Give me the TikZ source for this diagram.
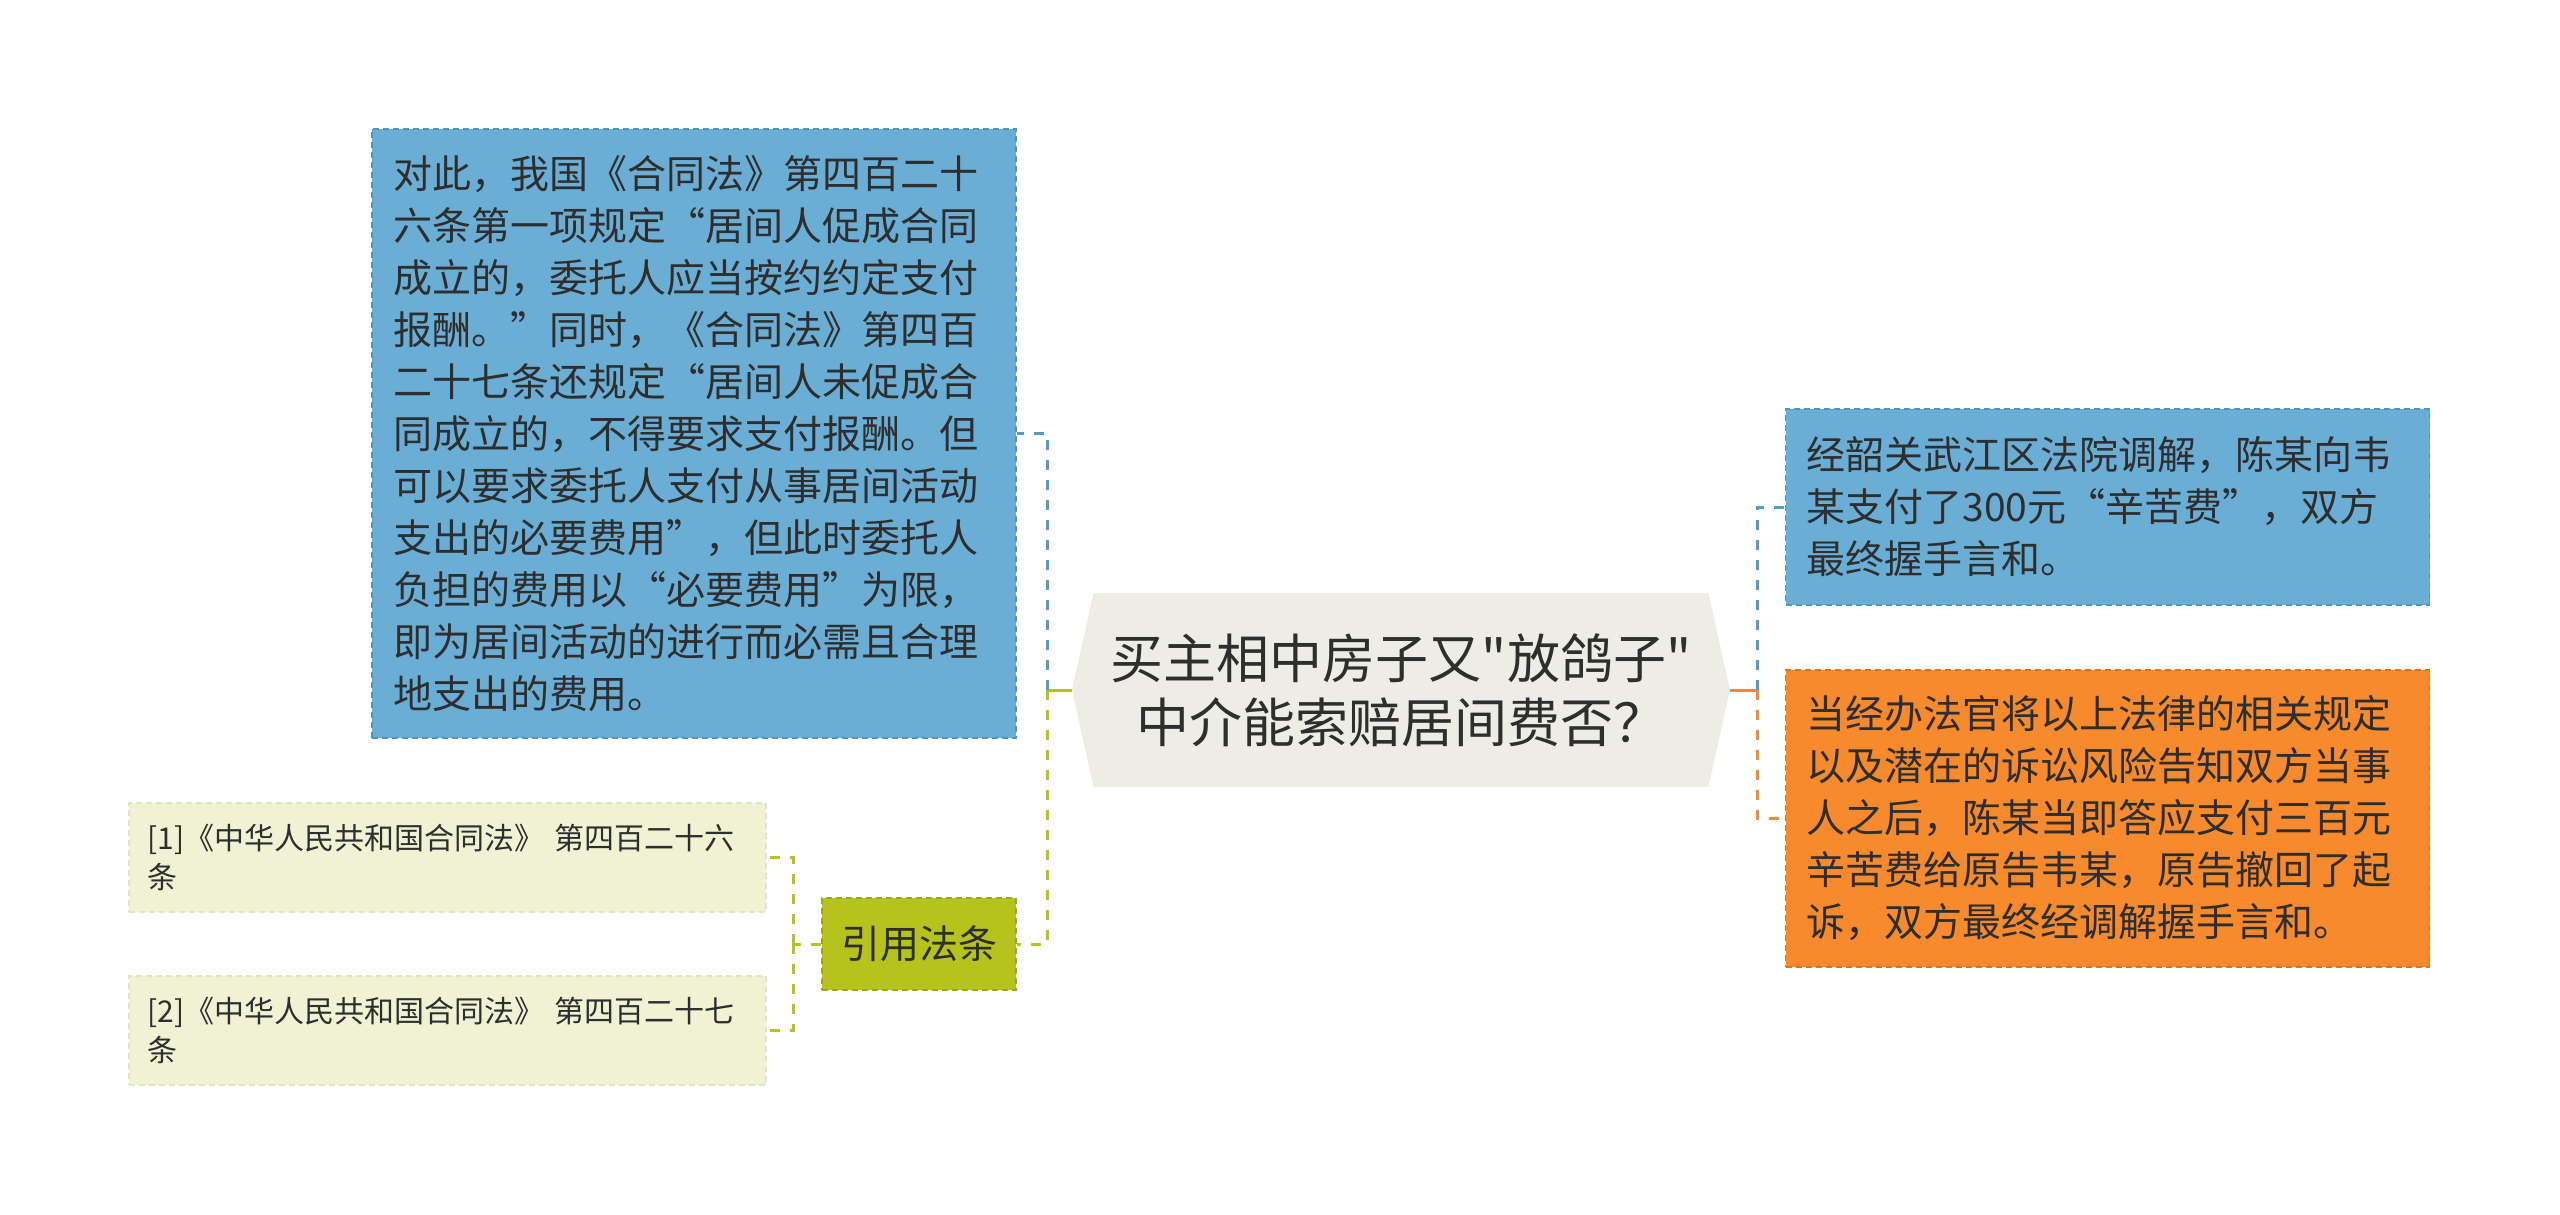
\documentclass[tikz,border=0pt]{standalone}
\usepackage{fontspec}
\setmainfont{Noto Sans CJK SC}[Ligatures=TeXOff]
\usetikzlibrary{shapes.symbols}
\definecolor{blufill}{HTML}{6BAED5}
\definecolor{bluline}{HTML}{4E96C2}
\definecolor{orgfill}{HTML}{F68A2C}
\definecolor{orgline}{HTML}{DE7418}
\definecolor{grnfill}{HTML}{B6C31C}
\definecolor{grnline}{HTML}{9CA814}
\definecolor{reffill}{HTML}{F0F2D4}
\definecolor{refline}{HTML}{E2E6BC}
\definecolor{topicfill}{HTML}{EDEDE5}
\definecolor{txt}{HTML}{2E2E2E}
\begin{document}
\begin{tikzpicture}[x=0.5pt,y=-0.5pt,
  box/.style={draw, dash pattern=on 3pt off 2pt, line width=0.6pt, text=txt, align=left, inner sep=0pt},
  note/.style={box, fill=blufill, draw=bluline, text width=301pt, minimum width=322pt,
    font=\fontsize{19.5pt}{26pt}\selectfont},
  warn/.style={note, fill=orgfill, draw=orgline},
  cite/.style={box, fill=grnfill, draw=grnline, align=center, minimum width=97pt, minimum height=46pt,
    font=\fontsize{19.5pt}{26pt}\selectfont},
  ref/.style={box, fill=reffill, draw=refline, text width=300pt, minimum width=318.5pt,
    minimum height=54.5pt, font=\fontsize{15pt}{19.5pt}\selectfont},
  topic/.style={shape=signal, signal to=west and east, signal pointer angle=155, fill=topicfill,
    text=txt, align=center, inner sep=0pt, minimum width=329pt, minimum height=97pt,
    font=\fontsize{26.5pt}{32pt}\selectfont},
  link/.style={line width=1.5pt},
  dlink/.style={link, dash pattern=on 5pt off 5pt}]
\useasboundingbox (0,0) rectangle (2560,1215);

\node[topic] (title) at (1401,690) {买主相中房子又"放鸽子"\\中介能索赔居间费否？};
\node[note, minimum height=304.5pt] (law) at (694,433.5)
  {对此，我国《合同法》第四百二十\\六条第一项规定“居间人促成合同\\成立的，委托人应当按约约定支付\\报酬。”同时，《合同法》第四百\\二十七条还规定“居间人未促成合\\同成立的，不得要求支付报酬。但\\可以要求委托人支付从事居间活动\\支出的必要费用”，但此时委托人\\负担的费用以“必要费用”为限，\\即为居间活动的进行而必需且合理\\地支出的费用。};
\node[cite] (cite) at (919,944) {引用法条};
\node[ref] (ref1) at (447.5,857.5) {[1]《中华人民共和国合同法》 第四百二十六\\条};
\node[ref] (ref2) at (447.5,1030.5) {[2]《中华人民共和国合同法》 第四百二十七\\条};
\node[note, minimum height=98pt] (deal) at (2107.5,507)
  {经韶关武江区法院调解，陈某向韦\\某支付了300元“辛苦费”，双方\\最终握手言和。};
\node[warn, minimum height=148.5pt] (judge) at (2107.5,818.5)
  {当经办法官将以上法律的相关规定\\以及潜在的诉讼风险告知双方当事\\人之后，陈某当即答应支付三百元\\辛苦费给原告韦某，原告撤回了起\\诉，双方最终经调解握手言和。};

\coordinate (lj) at (1047,690);
\coordinate (rj) at (1757,690);
\coordinate (cj) at (793,944);

\draw[link, grnfill] (title.west) -- (lj);
\draw[dlink, bluline!80!blufill] (lj) |- (law.east);
\draw[dlink, grnfill] (lj) |- (cite.east);
\draw[link, orgfill] (title.east) -- (rj);
\draw[dlink, bluline!80!blufill] (rj) |- (deal.west);
\draw[dlink, orgfill] (rj) |- (judge.west);
\draw[dlink, grnfill] (cite.west) -- (cj);
\draw[dlink, grnfill] (cj) |- (ref1.east);
\draw[dlink, grnfill] (cj) |- (ref2.east);
\end{tikzpicture}
\end{document}
